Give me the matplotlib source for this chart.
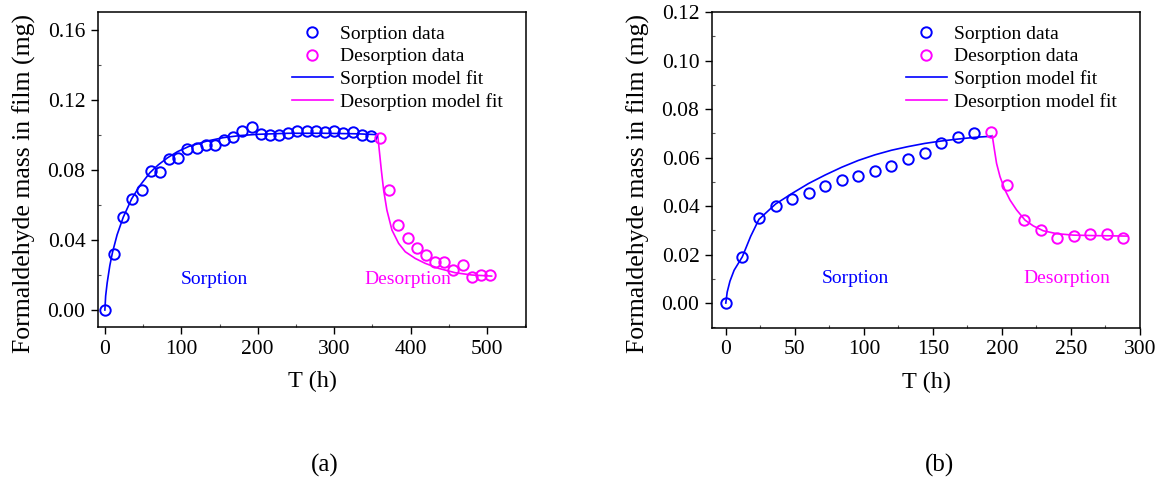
import matplotlib
matplotlib.use("Agg")
import matplotlib.pyplot as plt
from matplotlib.ticker import MultipleLocator, FormatStrFormatter

plt.rcParams['font.family'] = ['Liberation Serif', 'DejaVu Serif']
plt.rcParams['mathtext.fontset'] = 'stix'

BLUE = '#0000FF'
MAG = '#FF00FF'

# ---------------- Panel (a) data ----------------
a_sorp_t = [0, 12, 24, 36, 48, 60, 72, 84, 96, 108, 120, 132, 144, 156, 168,
            180, 192, 204, 216, 228, 240, 252, 264, 276, 288, 300, 312, 324, 336, 348]
a_sorp_m = [0.0000, 0.0322, 0.0533, 0.0636, 0.0686, 0.0796, 0.0789, 0.0863, 0.0867,
            0.0918, 0.0928, 0.0943, 0.0945, 0.0970, 0.0987, 0.1021, 0.1046, 0.1004,
            0.1002, 0.1002, 0.1010, 0.1023, 0.1025, 0.1025, 0.1019, 0.1023, 0.1010,
            0.1017, 0.1002, 0.0996]
a_desp_t = [360, 372, 384, 396, 408, 420, 432, 444, 456, 468, 480, 492, 504]
a_desp_m = [0.0985, 0.0684, 0.0486, 0.0411, 0.0352, 0.0314, 0.0272, 0.0276,
            0.0229, 0.0255, 0.0189, 0.0200, 0.0200]

a_sfit_t = [0, 1, 3, 6.5, 10, 16, 24, 35, 46, 59, 70, 82, 95, 110, 133, 155, 177,
            200, 240, 285, 330, 357]
a_sfit_m = [0.0, 0.0080, 0.0155, 0.0255, 0.0330, 0.0430, 0.0530, 0.0635, 0.0712,
            0.0785, 0.0830, 0.0870, 0.0905, 0.0935, 0.0965, 0.0985, 0.0997, 0.1004,
            0.1010, 0.1010, 0.1007, 0.1002]
a_dfit_t = [357, 359, 361.7, 364.7, 369, 375.6, 384.3, 393, 406, 419, 436.7, 458.5,
            480.4, 506]
a_dfit_m = [0.1000, 0.0914, 0.0800, 0.0686, 0.0571, 0.0457, 0.0381, 0.0333, 0.0295,
            0.0267, 0.0238, 0.0213, 0.0200, 0.0194]

# ---------------- Panel (b) data ----------------
b_sorp_t = [0, 12, 24, 36, 48, 60, 72, 84, 96, 108, 120, 132, 144, 156, 168, 180]
b_sorp_m = [0.0000, 0.0190, 0.0349, 0.0400, 0.0429, 0.0455, 0.0481, 0.0506, 0.0524,
            0.0543, 0.0564, 0.0594, 0.0620, 0.0659, 0.0686, 0.0701]
b_desp_t = [192, 204, 216, 228, 240, 252, 264, 276, 288]
b_desp_m = [0.0704, 0.0487, 0.0344, 0.0302, 0.0269, 0.0276, 0.0285, 0.0285, 0.0269]

b_sfit_t = [0, 1, 3, 6, 12, 18, 24, 36, 48, 60, 72, 84, 96, 108, 120, 132, 144, 156,
            168, 180, 193]
b_sfit_m = [0.0, 0.0045, 0.0090, 0.0135, 0.0191, 0.0275, 0.0345, 0.0408, 0.0452,
            0.0493, 0.0528, 0.0560, 0.0588, 0.0611, 0.0630, 0.0645, 0.0658, 0.0668,
            0.0676, 0.0683, 0.0688]
b_dfit_t = [193, 194.2, 196.1, 198.6, 202.2, 205.8, 210.6, 216.7, 222.7, 229.9,
            239.6, 251.7, 266.2, 291]
b_dfit_m = [0.0690, 0.0645, 0.0576, 0.0521, 0.0466, 0.0425, 0.0384, 0.0342, 0.0318,
            0.0298, 0.0286, 0.0280, 0.0278, 0.0276]

legend_labels = ["Sorption data", "Desorption data", "Sorption model fit",
                 "Desorption model fit"]
ylabel = "Formaldehyde mass in film (mg)"
xlabel = "T (h)"

fig = plt.figure(figsize=(11.62, 4.84), dpi=100)
W, H = 1162, 484


def make_axes(x0, x1, y0, y1):
    return fig.add_axes([x0 / W, 1 - y1 / H, (x1 - x0) / W, (y1 - y0) / H])


def style(ax, xmaj, xmin, ymaj, ymin, yfmt):
    ax.xaxis.set_major_locator(MultipleLocator(xmaj))
    ax.xaxis.set_minor_locator(MultipleLocator(xmin))
    ax.yaxis.set_major_locator(MultipleLocator(ymaj))
    ax.yaxis.set_minor_locator(MultipleLocator(ymin))
    ax.yaxis.set_major_formatter(FormatStrFormatter(yfmt))
    ax.tick_params(axis='both', which='major', direction='out', length=5,
                   width=1.0, labelsize=15.5, pad=4)
    ax.tick_params(axis='both', which='minor', direction='in', length=2.5,
                   width=0.8, color='#555555')
    for s in ax.spines.values():
        s.set_linewidth(1.1)


def panel(ax, st, sm, dt, dm, sft, sfm, dft, dfm):
    ax.plot(st, sm, 'o', mfc='none', mec=BLUE, mew=1.4, ms=7.5, label=legend_labels[0],
            zorder=3)
    ax.plot(dt, dm, 'o', mfc='none', mec=MAG, mew=1.4, ms=7.5, label=legend_labels[1],
            zorder=3)
    ax.plot(sft, sfm, '-', color=BLUE, lw=1.2, label=legend_labels[2], zorder=2)
    ax.plot(dft, dfm, '-', color=MAG, lw=1.2, label=legend_labels[3], zorder=2)
    ax.legend(loc='upper left', bbox_to_anchor=(0.453, 0.958), frameon=False,
              fontsize=14, handlelength=2.1, handletextpad=0.35, labelspacing=0.25,
              borderpad=0, borderaxespad=0)


# Panel (a)
ax1 = make_axes(98, 526, 12, 327)
panel(ax1, a_sorp_t, a_sorp_m, a_desp_t, a_desp_m, a_sfit_t, a_sfit_m, a_dfit_t, a_dfit_m)
ax1.set_xlim(-9, 551)
ax1.set_ylim(-0.0097, 0.1703)
style(ax1, 100, 50, 0.04, 0.02, '%.2f')
ax1.text(0.273, 0.152, "Sorption", color=BLUE, fontsize=14, ha='center', va='center',
         transform=ax1.transAxes)
ax1.text(0.724, 0.152, "Desorption", color=MAG, fontsize=14, ha='center', va='center',
         transform=ax1.transAxes)
ax1.set_xlabel(xlabel, fontsize=17.5, labelpad=9)
ax1.set_ylabel(ylabel, fontsize=18.5)
ax1.yaxis.set_label_coords(-0.146, 0.457)

# Panel (b)
ax2 = make_axes(712, 1140, 12, 328)
panel(ax2, b_sorp_t, b_sorp_m, b_desp_t, b_desp_m, b_sfit_t, b_sfit_m, b_dfit_t, b_dfit_m)
ax2.set_xlim(-10, 300)
ax2.set_ylim(-0.0103, 0.12)
style(ax2, 50, 25, 0.02, 0.01, '%.2f')
ax2.text(0.334, 0.158, "Sorption", color=BLUE, fontsize=14, ha='center', va='center',
         transform=ax2.transAxes)
ax2.text(0.829, 0.158, "Desorption", color=MAG, fontsize=14, ha='center', va='center',
         transform=ax2.transAxes)
ax2.set_xlabel(xlabel, fontsize=17.5, labelpad=9)
ax2.set_ylabel(ylabel, fontsize=18.5)
ax2.yaxis.set_label_coords(-0.145, 0.457)

fig.text(325 / W, 1 - 465 / H, "(a)", fontsize=18, ha='center', va='center')
fig.text(940 / W, 1 - 465 / H, "(b)", fontsize=18, ha='center', va='center')

fig.savefig("out.png", dpi=100)
